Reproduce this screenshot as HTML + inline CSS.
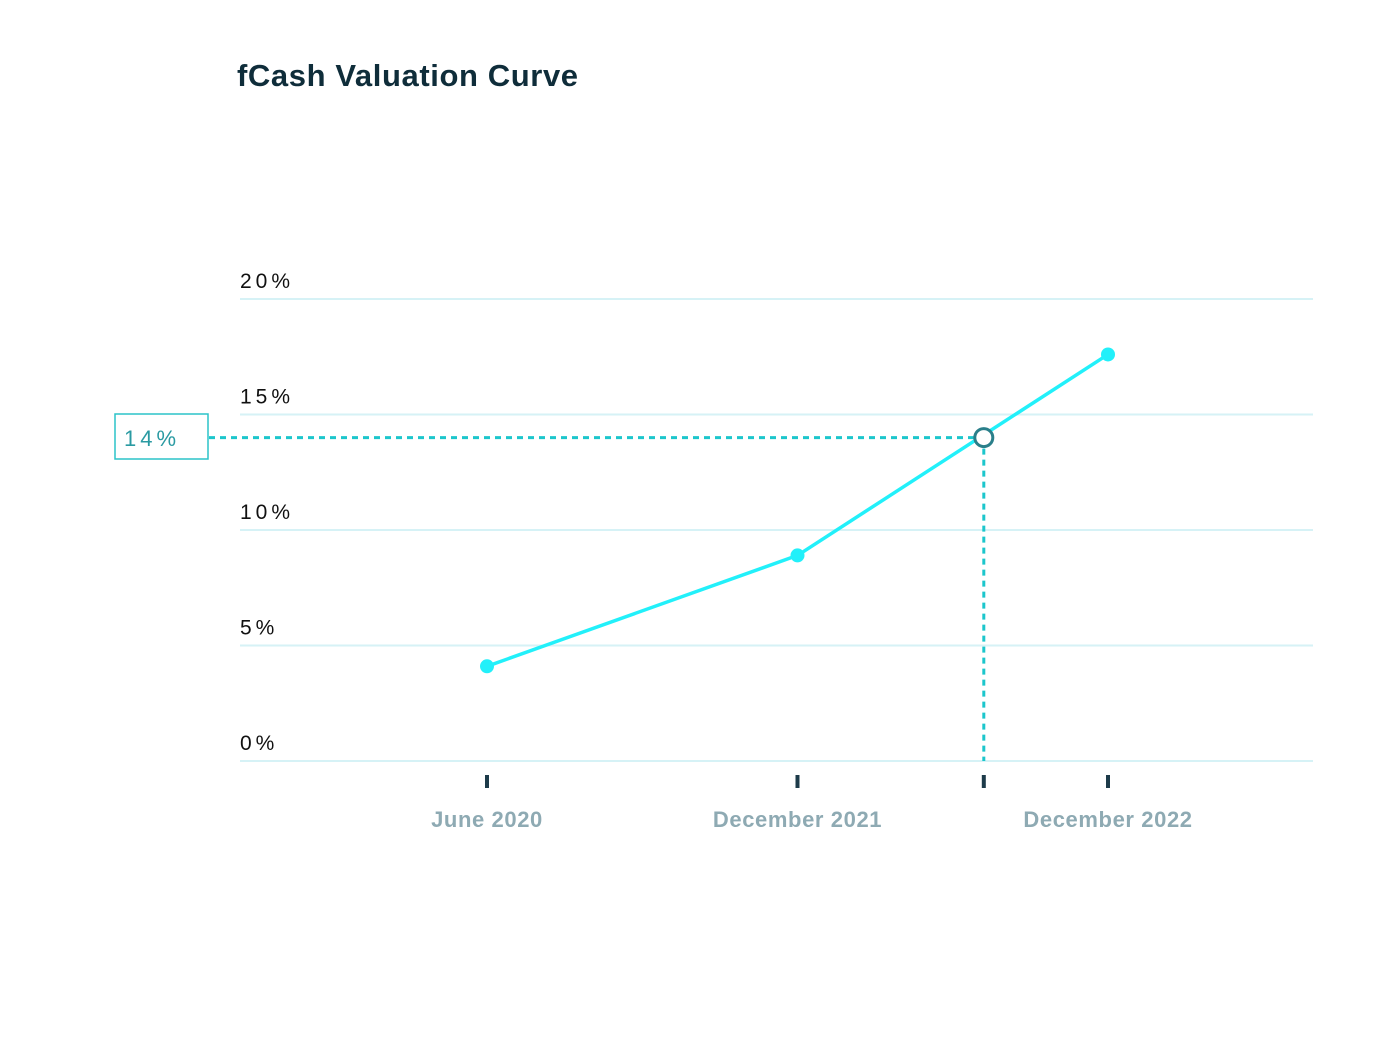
<!DOCTYPE html>
<html><head><meta charset="utf-8"><style>
html,body{margin:0;padding:0;background:#fff;}
svg{display:block;font-family:"Liberation Sans",sans-serif;}
</style></head><body>
<svg id="chart" width="1400" height="1039" viewBox="0 0 1400 1039">
<text x="237" y="86" font-size="31" fill="#0f2d3a" font-weight="bold" letter-spacing="0.6">fCash Valuation Curve</text>
<g id="grid"></g><g id="ylabels"></g><g id="xticks"></g><g id="marks"></g>
</svg>
<script>
const yTicks = [0, 5, 10, 15, 20];
const yTickLabels = ["0%", "5%", "10%", "15%", "20%"];
const categories = ["June 2020", "December 2021", "December 2022"];
const values = [4.1, 8.9, 17.6];
const markerIndex = [1.6];
const markerValue = [14];
const markerLabel = ["14%"];

const NS = "http://www.w3.org/2000/svg";
function y(v){ return 761 - v * 23.1; }
function x(i){ return 487 + i * 310.5; }
function mk(tag, attrs, parent, text){
  const e = document.createElementNS(NS, tag);
  for (const k in attrs) e.setAttribute(k, attrs[k]);
  if (text !== undefined) e.textContent = text;
  document.getElementById(parent).appendChild(e);
  return e;
}
yTicks.forEach((t, i) => {
  const l = mk("line", {x1:240, x2:1313, y1:y(t), y2:y(t), stroke:"#d6f2f6", "stroke-width":2}, "grid");
  
  
  const tx = mk("text", {x:240, y:y(t)-11, "font-size":21, fill:"#111", "letter-spacing":4}, "ylabels", yTickLabels[i]);
  
  
});
const tickIdx = [0, 1, markerIndex[0], 2];
tickIdx.forEach(i => {
  const r = mk("rect", {x:x(i)-2, y:775, width:4, height:13, fill:"#1d3b4a"}, "xticks");
  
  
});
categories.forEach((c, i) => {
  const t = mk("text", {x:x(i), y:827, "font-size":22, fill:"#8eaab3", "text-anchor":"middle", "font-weight":"bold", "letter-spacing":0.6}, "xticks", c);
  
  
});
const mx = x(markerIndex[0]), my = y(markerValue[0]);
const h = mk("line", {x1:209, x2:mx, y1:my, y2:my, stroke:"#1cc6cc", "stroke-width":3, "stroke-dasharray":"6 5"}, "marks");


const v = mk("line", {x1:mx, x2:mx, y1:my, y2:761, stroke:"#1cc6cc", "stroke-width":3, "stroke-dasharray":"6 5"}, "marks");


const box = mk("rect", {x:115, y:414, width:93, height:45, fill:"#fff", stroke:"#2bc3c9", "stroke-width":1.5}, "marks");


const bt = mk("text", {x:124, y:446, "font-size":22, fill:"#2a9aa2", "letter-spacing":4}, "marks", markerLabel[0]);


const pts = values.map((val, i) => x(i) + "," + y(val)).join(" ");
const line = mk("polyline", {points:pts, fill:"none", stroke:"#22f0fa", "stroke-width":3.5, "stroke-linejoin":"round"}, "marks");


values.forEach((val, i) => {
  const c = mk("circle", {cx:x(i), cy:y(val), r:7, fill:"#22f0fa"}, "marks");
  
  
});
const hm = mk("circle", {cx:mx, cy:my, r:9, fill:"#fff", stroke:"#2a7f8a", "stroke-width":3}, "marks");


</script>
</body></html>
